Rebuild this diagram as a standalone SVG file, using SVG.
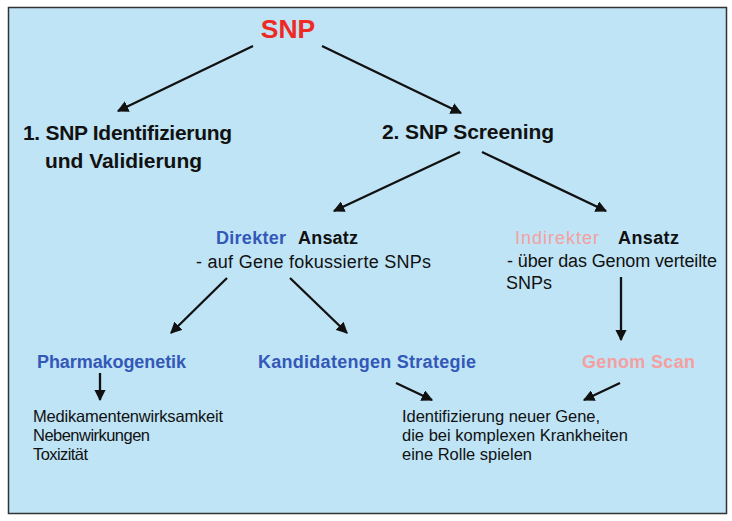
<svg xmlns="http://www.w3.org/2000/svg" width="732" height="521" viewBox="0 0 732 521">
<defs>
<marker id="ah" viewBox="0 0 10 10" refX="9" refY="5" markerWidth="5" markerHeight="5" orient="auto" markerUnits="strokeWidth"><path d="M0,0 L10,5 L0,10 z" fill="#111"/></marker>
</defs>
<style>
text{font-family:"Liberation Sans",Arial,sans-serif;fill:#111}
.b{font-weight:bold}
.h{font-size:21px;font-weight:bold}
.m{font-size:18px;font-weight:bold}
.r{font-size:18px}
.s{font-size:16.5px}
.blue{fill:#3358b8}
.pink{fill:#f4a0a0}
.red{fill:#ee2a24}
.c line{stroke:#111;stroke-width:2.3;marker-end:url(#ah)}
</style>
<rect width="732" height="521" fill="#fff"/>
<rect x="8.5" y="7.5" width="718" height="506" fill="#bfe4f6" stroke="#333" stroke-width="1.5"/>
<g id="snp"><text x="288" y="38" text-anchor="middle" class="b red" style="font-size:26.5px">SNP</text></g>
<g id="n1"><text x="23" y="140" class="h" textLength="209">1. SNP Identifizierung</text><text x="45" y="168" class="h" textLength="157">und Validierung</text></g>
<g id="n2"><text x="382" y="139" class="h" textLength="172">2. SNP Screening</text></g>
<g id="direkt"><text x="216" y="244" class="m blue" textLength="70">Direkter</text><text x="298" y="244" class="m" textLength="60">Ansatz</text><text x="196" y="268" class="r" textLength="235">- auf Gene fokussierte SNPs</text></g>
<g id="indirekt"><text x="515" y="244" class="r pink" textLength="84">Indirekter</text><text x="618" y="244" class="m" textLength="61">Ansatz</text><text x="507" y="267" class="r" textLength="210">- über das Genom verteilte</text><text x="506" y="289" class="r">SNPs</text></g>
<g id="pharma"><text x="37" y="368" class="m blue" textLength="149">Pharmakogenetik</text></g>
<g id="kandidat"><text x="258" y="368" class="m blue" textLength="218">Kandidatengen Strategie</text></g>
<g id="genom"><text x="582" y="368" class="m pink" textLength="113">Genom Scan</text></g>
<g id="effekte"><text x="33" y="422" class="s" textLength="190">Medikamentenwirksamkeit</text><text x="33" y="441" class="s" textLength="117">Nebenwirkungen</text><text x="33" y="460" class="s" textLength="55">Toxizität</text></g>
<g id="ident"><text x="402" y="422" class="s" textLength="198">Identifizierung neuer Gene,</text><text x="402" y="441" class="s" textLength="226">die bei komplexen Krankheiten</text><text x="402" y="460" class="s" textLength="130">eine Rolle spielen</text></g>
<g class="c" id="connectors">
<line x1="253" y1="46" x2="118" y2="111"/>
<line x1="322" y1="46" x2="461" y2="113"/>
<line x1="460" y1="152" x2="334" y2="211"/>
<line x1="482" y1="152" x2="606" y2="211"/>
<line x1="227" y1="278" x2="171" y2="333"/>
<line x1="290" y1="278" x2="347" y2="333"/>
<line x1="621" y1="277" x2="621" y2="340"/>
<line x1="100" y1="373" x2="100" y2="400"/>
<line x1="396" y1="383" x2="432" y2="400"/>
<line x1="620" y1="383" x2="584" y2="400"/>
</g>
</svg>
